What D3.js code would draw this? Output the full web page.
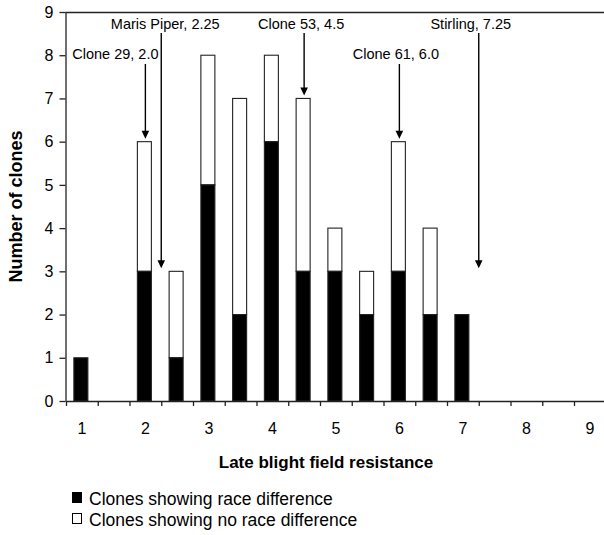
<!DOCTYPE html>
<html>
<head>
<meta charset="utf-8">
<script src="https://cdn.jsdelivr.net/npm/d3@7"></script>
<style>
  html, body { margin: 0; padding: 0; background: #fff; }
  svg { display: block; }
  text { font-family: "Liberation Sans", Arial, Helvetica, sans-serif; fill: #000; }
</style>
</head>
<body>
<svg id="chart" width="604" height="535"></svg>
<script>
// ---- data ----
const categories = [1, 1.5, 2, 2.5, 3, 3.5, 4, 4.5, 5, 5.5, 6, 6.5, 7, 7.5, 8, 8.5, 9];
const raceDifference = [1, 0, 3, 1, 5, 2, 6, 3, 3, 2, 3, 2, 2, 0, 0, 0, 0];
const noRaceDifference = [0, 0, 3, 2, 3, 5, 2, 4, 1, 1, 3, 2, 0, 0, 0, 0, 0];
const xTickLabels = [1, 2, 3, 4, 5, 6, 7, 8, 9];
const yTickLabels = [0, 1, 2, 3, 4, 5, 6, 7, 8, 9];
const seriesNames = ["Clones showing race difference", "Clones showing no race difference"];
const annotationLabels = ["Clone 29, 2.0", "Maris Piper, 2.25", "Clone 53, 4.5", "Clone 61, 6.0", "Stirling, 7.25"];
const annotationX = [2.0, 2.25, 4.5, 6.0, 7.25];
const annotationTarget = [6, 3, 7, 6, 3];
const xTitle = "Late blight field resistance";
const yTitle = "Number of clones";

// ---- layout (styling only) ----
const annTextRow = [1, 0, 0, 1, 0];          // 0 = upper row, 1 = lower row
const annTextShift = [-30, 4, -3, -3.5, -8]; // horizontal text offset from arrow
const rowTextBaseline = [29, 59];
const rowLineStart = [33, 64];

const svg = d3.select("#chart");
const plotTop = 12, plotBottom = 401, plotLeft = 65.5, plotRight = 604;

const x = d3.scaleLinear().domain([0.75, 9.25]).range([66, 605.75]);
const y = d3.scaleLinear().domain([0, 9]).range([plotBottom, plotTop]);

const barW = 14, barOff = -8;

const rows = categories.map((c, i) => ({ c, a: raceDifference[i], b: noRaceDifference[i] }));

// white (no race difference) stacked on top
svg.append("g").selectAll("rect.nr")
  .data(rows.filter(d => d.b > 0))
  .join("rect")
  .attr("x", d => x(d.c) + barOff)
  .attr("width", barW)
  .attr("y", d => y(d.a + d.b))
  .attr("height", d => y(d.a) - y(d.a + d.b))
  .attr("fill", "#fff")
  .attr("stroke", "#222")
  .attr("stroke-width", 1.1);

svg.append("g").selectAll("rect.rd")
  .data(rows.filter(d => d.a > 0))
  .join("rect")
  .attr("x", d => x(d.c) + barOff)
  .attr("width", barW)
  .attr("y", d => y(d.a))
  .attr("height", d => y(0) - y(d.a))
  .attr("fill", "#000")
  .attr("stroke", "#222")
  .attr("stroke-width", 1.1);

// frame top line
svg.append("line")
  .attr("x1", plotLeft).attr("x2", plotRight)
  .attr("y1", plotTop + 0.5).attr("y2", plotTop + 0.5)
  .attr("stroke", "#222").attr("stroke-width", 1.3);

// y axis
const yAxis = svg.append("g")
  .attr("transform", `translate(${plotLeft},0)`)
  .call(d3.axisLeft(y).tickValues(yTickLabels).tickSize(6).tickPadding(6).tickSizeOuter(0));
yAxis.attr("font-size", 16).attr("font-family", "Liberation Sans, Arial, sans-serif");
yAxis.select(".domain").attr("stroke", "#222").attr("stroke-width", 1.3);
yAxis.selectAll(".tick line").attr("stroke", "#222").attr("stroke-width", 1.3);
yAxis.selectAll(".tick text").attr("font-size", 16).attr("fill", "#000");

// x axis: boundary ticks
const boundaries = d3.range(0, 18).map(k => 0.75 + 0.5 * k);
const xAxis = svg.append("g")
  .attr("transform", `translate(0,${plotBottom})`)
  .call(d3.axisBottom(x).tickValues(boundaries).tickSize(5).tickSizeOuter(0).tickFormat(""));
xAxis.select(".domain").attr("stroke", "#222").attr("stroke-width", 1.3);
xAxis.selectAll(".tick line").attr("stroke", "#222").attr("stroke-width", 1.3);

// x tick labels at integers
svg.append("g").selectAll("text")
  .data(xTickLabels)
  .join("text")
  .attr("x", d => x(d))
  .attr("y", 434)
  .attr("text-anchor", "middle")
  .attr("font-size", 16)
  .text(d => d);

// titles
svg.append("text")
  .attr("x", 326).attr("y", 468)
  .attr("text-anchor", "middle")
  .attr("font-size", 17).attr("font-weight", "bold")
  .text(xTitle);

svg.append("text")
  .attr("transform", `translate(22,${(plotTop + plotBottom) / 2}) rotate(-90)`)
  .attr("text-anchor", "middle")
  .attr("font-size", 18).attr("font-weight", "bold")
  .text(yTitle);

// annotations
const ann = svg.append("g");
annotationLabels.forEach((lab, i) => {
  const ax = x(annotationX[i]);
  const row = annTextRow[i];
  ann.append("text")
    .attr("x", ax + annTextShift[i])
    .attr("y", rowTextBaseline[row])
    .attr("text-anchor", "middle")
    .attr("font-size", 14.5)
    .text(lab);
  const tipY = y(annotationTarget[i]) - 3;
  ann.append("line")
    .attr("x1", ax).attr("x2", ax)
    .attr("y1", rowLineStart[row]).attr("y2", tipY - 6)
    .attr("stroke", "#000").attr("stroke-width", 1.4);
  ann.append("path")
    .attr("d", `M${ax - 3.8},${tipY - 8} L${ax + 3.8},${tipY - 8} L${ax},${tipY} Z`)
    .attr("fill", "#000");
});

// legend
const legend = svg.append("g");
const legendBaselines = [505, 526];
seriesNames.forEach((name, i) => {
  legend.append("rect")
    .attr("x", 72.5).attr("y", legendBaselines[i] - 12.5)
    .attr("width", 9).attr("height", 10)
    .attr("fill", i === 0 ? "#000" : "#fff")
    .attr("stroke", "#000").attr("stroke-width", 1);
  legend.append("text")
    .attr("x", 89).attr("y", legendBaselines[i])
    .attr("font-size", 17.5)
    .text(name);
});
</script>
</body>
</html>
